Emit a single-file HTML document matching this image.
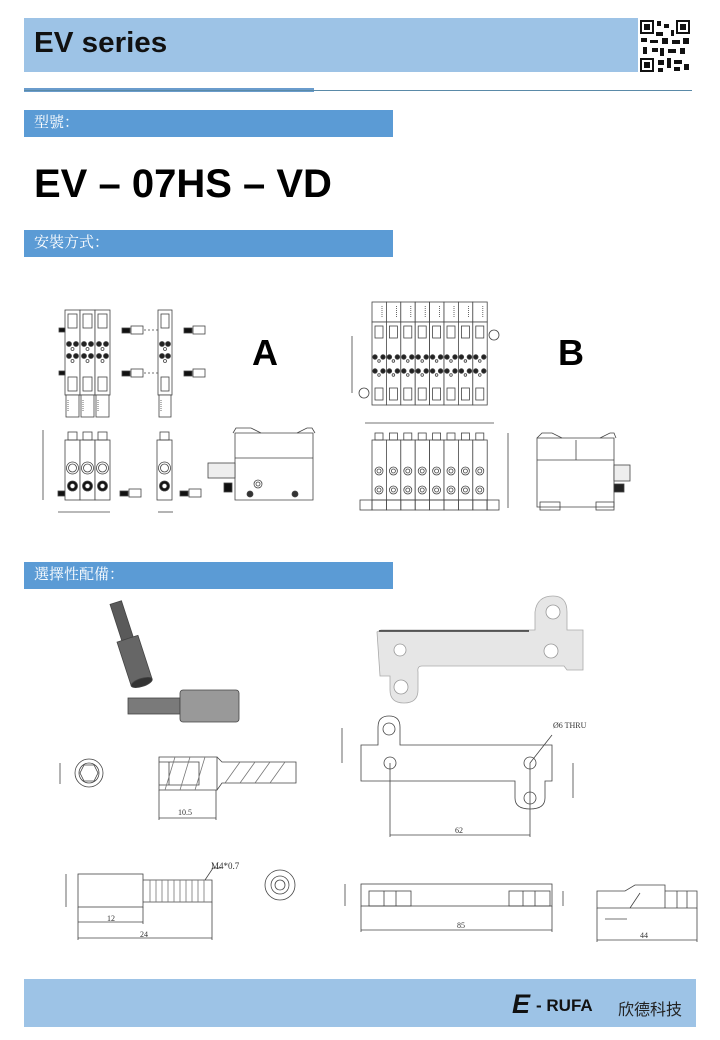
<!DOCTYPE html>
<html><head><meta charset="utf-8"><style>
body{margin:0;background:#fff;width:720px;height:1040px;position:relative;overflow:hidden;font-family:"Liberation Sans","Noto Sans CJK TC",sans-serif}
.a{position:absolute}
.bar{position:absolute;left:24px;width:369px;height:27px;background:#5b9bd5;color:#fff;font-size:15px;line-height:27px;padding-left:10px;box-sizing:border-box;font-family:"Liberation Serif","Noto Serif CJK SC",serif}
.t{position:absolute;font-size:8px;font-family:'Liberation Serif',serif;color:#333}
</style></head><body>
<div class="a" style="left:24px;top:18px;width:614px;height:54px;background:#9dc3e6"></div>
<div class="a" style="left:34px;top:27px;font-size:29px;font-weight:bold;color:#111;transform:scaleX(1.02);transform-origin:left">EV series</div>
<svg class="a" style="left:638px;top:18px" width="54" height="56" viewBox="0 0 54 56">
<rect width="54" height="56" fill="#fff"/>
<g fill="#111"><rect x="2" y="2" width="14" height="14"/><rect x="38" y="2" width="14" height="14"/><rect x="2" y="40" width="14" height="14"/></g>
<g fill="#fff"><rect x="4" y="4" width="10" height="10"/><rect x="40" y="4" width="10" height="10"/><rect x="4" y="42" width="10" height="10"/></g>
<g fill="#111"><rect x="6" y="6" width="6" height="6"/><rect x="42" y="6" width="6" height="6"/><rect x="6" y="44" width="6" height="6"/>
<rect x="19" y="3" width="4" height="5"/><rect x="26" y="6" width="5" height="4"/><rect x="33" y="12" width="3" height="6"/><rect x="18" y="14" width="7" height="4"/><rect x="3" y="20" width="6" height="4"/><rect x="12" y="22" width="8" height="3"/><rect x="24" y="20" width="6" height="6"/><rect x="34" y="22" width="8" height="4"/><rect x="45" y="20" width="6" height="6"/><rect x="5" y="29" width="4" height="7"/><rect x="14" y="30" width="6" height="4"/><rect x="22" y="30" width="4" height="8"/><rect x="30" y="31" width="8" height="4"/><rect x="42" y="30" width="5" height="6"/><rect x="20" y="42" width="6" height="5"/><rect x="29" y="40" width="4" height="10"/><rect x="36" y="42" width="8" height="4"/><rect x="46" y="46" width="5" height="6"/><rect x="20" y="50" width="5" height="4"/><rect x="36" y="49" width="6" height="4"/></g></svg>
<div class="a" style="left:24px;top:88px;width:290px;height:4px;background:#6a9ccc"></div>
<div class="a" style="left:24px;top:90px;width:668px;height:1px;background:#5a8aa8"></div>
<div class="bar" style="top:110px">型號：</div>
<div class="a" style="left:34px;top:162px;font-size:40px;font-weight:bold;color:#000">EV – 07HS – VD</div>
<div class="bar" style="top:230px">安裝方式：</div>
<div class="bar" style="top:562px">選擇性配備：</div>

<svg id="dr" class="a" style="left:0;top:0" width="720" height="1040" stroke="#444" fill="none" stroke-width="0.8">
<path d="M235 458 h78 v42 h-78z M235 433 h78 v25 h-78z" fill="#fff"/>
<path d="M233 433 l3 -5 h15 l10 5 M297 433 l10 -5 h5 l3 5"/>
<rect x="208" y="463" width="27" height="15" fill="#eee"/><circle cx="258" cy="484" r="4"/><circle cx="258" cy="484" r="2"/>
<rect x="224" y="483" width="8" height="9" fill="#111"/><circle cx="250" cy="494" r="3" fill="#333"/><circle cx="295" cy="494" r="3" fill="#333"/>
<line x1="43" y1="430" x2="43" y2="500"/><line x1="58" y1="512" x2="110" y2="512"/><line x1="158" y1="512" x2="173" y2="512"/>
<path d="M537 438 h77 v69 h-77z" fill="#fff"/><line x1="537" y1="460" x2="614" y2="460"/><line x1="576" y1="440" x2="576" y2="460"/>
<path d="M537 438 l5 -5 h10 l10 5 M600 438 l10 -5 h4 l2 5"/>
<rect x="614" y="465" width="16" height="16" fill="#eee"/><rect x="614" y="484" width="10" height="8" fill="#222"/>
<rect x="540" y="502" width="20" height="8"/><rect x="596" y="502" width="18" height="8"/>
<line x1="508" y1="433" x2="508" y2="508"/><line x1="352" y1="336" x2="352" y2="393"/><line x1="365" y1="423" x2="494" y2="423"/>
<circle cx="494" cy="335" r="5"/><circle cx="364" cy="393" r="5"/>
<g transform="rotate(-18 130 640)"><rect x="122" y="600" width="12" height="38" fill="#5a5a5a"/><rect x="117" y="638" width="22" height="46" fill="#666"/><ellipse cx="128" cy="684" rx="11" ry="4" fill="#333"/></g>
<rect x="128" y="698" width="52" height="16" fill="#7a7a7a"/><rect x="180" y="690" width="59" height="32" fill="#999" rx="3"/>
<circle cx="89" cy="773" r="14"/><circle cx="89" cy="773" r="10"/><path d="M84 765 h10 l4 8 l-4 8 h-10 l-4 -8z"/>
<line x1="60" y1="763" x2="60" y2="784"/>
<path d="M159 757 h58 v33 h-58z" fill="#fff"/><path d="M159 762 h40 v23 h-40 M169 762 v23 M217 757 l5 5 h74 v21 h-74 l-5 7"/>
<g stroke="#777"><path d="M165 790 l10 -33 M180 790 l10 -33 M195 790 l10 -33 M225 783 l15 -21 M240 783 l15 -21 M255 783 l15 -21 M270 783 l15 -21"/></g>
<line x1="159" y1="818" x2="216" y2="818"/><line x1="159" y1="790" x2="159" y2="820"/><line x1="216" y1="790" x2="216" y2="820"/>
<rect x="78" y="874" width="65" height="33" fill="#fff"/><path d="M143 880 h69 v22 h-69"/>
<g stroke="#777"><path d="M150 880 v22 M156 880 v22 M162 880 v22 M168 880 v22 M174 880 v22 M180 880 v22 M186 880 v22 M192 880 v22 M198 880 v22 M204 880 v22"/></g>
<path d="M205 880 l8 -12 h8"/>
<circle cx="280" cy="885" r="15"/><circle cx="280" cy="885" r="9"/><circle cx="280" cy="885" r="5"/>
<line x1="66" y1="874" x2="66" y2="907"/>
<line x1="78" y1="922" x2="143" y2="922"/><line x1="78" y1="938" x2="212" y2="938"/><line x1="78" y1="907" x2="78" y2="940"/><line x1="143" y1="907" x2="143" y2="924"/><line x1="212" y1="902" x2="212" y2="940"/>
<path d="M377 632 l4 -2 h154 v-18 q2 -16 18 -16 q14 0 14 16 v18 h16 v40 h-16 l-3 -4 h-142 q-5 0 -4 6 v18 q0 13 -14 13 q-14 0 -14 -13 v-14 h-10z" fill="#e6e6e6" stroke="#aaa"/>
<path d="M379 631 h150" stroke="#333" stroke-width="1.5"/>
<g fill="#fff" stroke="#999"><circle cx="400" cy="650" r="6"/><circle cx="553" cy="612" r="7"/><circle cx="551" cy="651" r="7"/><circle cx="401" cy="687" r="7"/></g>
<path d="M361 745 h17 v-18 q0 -11 11 -11 q11 0 11 11 v18 h152 v36 h-7 v17 q0 11 -15 11 q-15 0 -15 -11 v-17 h-154z" fill="#fff"/>
<circle cx="389" cy="729" r="6"/><circle cx="390" cy="763" r="6"/><circle cx="530" cy="763" r="6"/><circle cx="530" cy="798" r="6"/>
<line x1="342" y1="728" x2="342" y2="763"/><line x1="573" y1="763" x2="573" y2="798"/>
<line x1="390" y1="763" x2="390" y2="837"/><line x1="530" y1="763" x2="530" y2="837"/><line x1="390" y1="835" x2="530" y2="835"/>
<path d="M530 763 l22 -28"/>
<rect x="361" y="884" width="191" height="22" fill="#fff"/><rect x="369" y="891" width="42" height="15"/><rect x="509" y="891" width="41" height="15"/>
<path d="M384 891 v15 M396 891 v15 M523 891 v15 M535 891 v15"/>
<line x1="361" y1="930" x2="552" y2="930"/><line x1="361" y1="906" x2="361" y2="932"/><line x1="552" y1="906" x2="552" y2="932"/>
<line x1="345" y1="884" x2="345" y2="906"/><line x1="563" y1="891" x2="563" y2="906"/>
<path d="M597 891 h28 l10 -6 h30 v23 h-68z M665 891 h32 v17 h-32 M630 908 l10 -15 M677 891 v17 M687 891 v17"/>
<line x1="605" y1="919" x2="627" y2="919"/><line x1="597" y1="940" x2="697" y2="940"/><line x1="597" y1="908" x2="597" y2="942"/><line x1="697" y1="908" x2="697" y2="942"/>
</svg>
<div class="a" style="left:252px;top:332px;font-size:36px;font-weight:bold">A</div>
<div class="a" style="left:558px;top:332px;font-size:36px;font-weight:bold">B</div>
<div class="t" style="left:211px;top:861px;font-size:9px">M4*0.7</div>
<div class="t" style="left:178px;top:808px">10.5</div>
<div class="t" style="left:107px;top:914px">12</div>
<div class="t" style="left:140px;top:930px">24</div>
<div class="t" style="left:455px;top:826px">62</div>
<div class="t" style="left:553px;top:721px">Ø6 THRU</div>
<div class="t" style="left:457px;top:921px">85</div>
<div class="t" style="left:640px;top:931px">44</div>

<div class="a" style="left:24px;top:979px;width:672px;height:48px;background:#9dc3e6"></div>
<div class="a" style="left:512px;top:989px;font-size:27px;font-weight:bold;font-style:italic;color:#111">E</div>
<div class="a" style="left:536px;top:996px;font-size:17px;font-weight:bold;color:#111">- RUFA</div>
<div class="a" style="left:618px;top:996px;font-size:16px;color:#222">欣德科技</div>
<script>
var s=document.getElementById('dr'),ns='http://www.w3.org/2000/svg';
function e(t,a){var el=document.createElementNS(ns,t);for(var k in a)el.setAttribute(k,a[k]);s.appendChild(el);return el;}
function topMod(x,y,w){e('rect',{x:x,y:y,width:w,height:85,fill:'#fff'});e('rect',{x:x+3,y:y+4,width:w-6,height:14});e('rect',{x:x+3,y:y+67,width:w-6,height:14});
[y+34,y+46].forEach(function(cy){e('circle',{cx:x+4,cy:cy,r:2.5,fill:'#222'});e('circle',{cx:x+w-4,cy:cy,r:2.5,fill:'#222'});e('circle',{cx:x+w/2,cy:cy+5,r:1.5});});
e('rect',{x:x+1,y:y+85,width:w-2,height:22,fill:'#fff'});e('line',{x1:x+3,y1:y+90,x2:x+3,y2:y+102,'stroke-dasharray':'1 1'});}
[65,80,95].forEach(function(x){topMod(x,310,15);});topMod(158,310,14);
function fit(x,y){e('rect',{x:x,y:y-2,width:8,height:5,fill:'#111'});e('rect',{x:x+9,y:y-4,width:12,height:8,fill:'#fff'});}
fit(122,330);fit(122,373);fit(184,330);fit(184,373);fit(120,493);fit(180,493);
e('rect',{x:59,y:328,width:6,height:4,fill:'#111'});e('rect',{x:59,y:371,width:6,height:4,fill:'#111'});e('rect',{x:58,y:491,width:7,height:5,fill:'#111'});
e('path',{d:'M144 330 h14 M144 373 h14',"stroke-dasharray":'2 2'});
function botA(x){e('rect',{x:x,y:440,width:15,height:60,fill:'#fff'});e('rect',{x:x+3,y:432,width:9,height:8});e('circle',{cx:x+7.5,cy:468,r:6});e('circle',{cx:x+7.5,cy:468,r:4});e('circle',{cx:x+7.5,cy:486,r:5,fill:'#111'});e('circle',{cx:x+7.5,cy:486,r:2.5,fill:'#fff'});}
[65,80,95].forEach(botA);botA(157);
for(var i=0;i<8;i++){var x=372+i*14.4;e('rect',{x:x,y:302,width:14.4,height:20,fill:'#fff'});e('line',{x1:x+10,y1:306,x2:x+10,y2:318,'stroke-dasharray':'1 1'});
e('rect',{x:x,y:322,width:14.4,height:83,fill:'#fff'});e('rect',{x:x+3,y:326,width:8,height:12});e('rect',{x:x+3,y:388,width:8,height:12});
[357,371].forEach(function(cy){e('circle',{cx:x+3,cy:cy,r:2.3,fill:'#222'});e('circle',{cx:x+11,cy:cy,r:2.3,fill:'#222'});e('circle',{cx:x+7,cy:cy+4,r:1.3});});
e('rect',{x:x,y:440,width:14.4,height:60,fill:'#fff'});e('rect',{x:x+3,y:433,width:8,height:7});
e('circle',{cx:x+7,cy:471,r:4});e('circle',{cx:x+7,cy:471,r:2});e('circle',{cx:x+7,cy:490,r:4});e('circle',{cx:x+7,cy:490,r:2});
e('rect',{x:x,y:500,width:14.4,height:10});}
e('rect',{x:360,y:500,width:12,height:10});e('rect',{x:487,y:500,width:12,height:10});
</script>
</body></html>
